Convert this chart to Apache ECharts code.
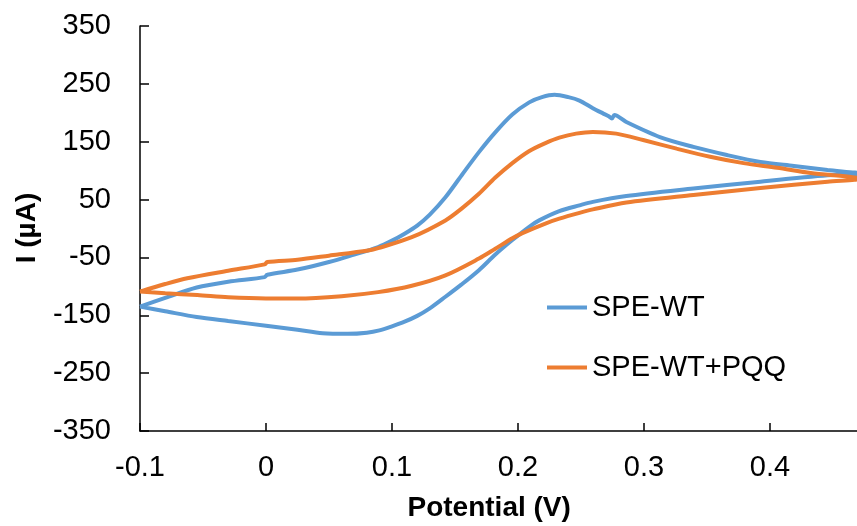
<!DOCTYPE html>
<html>
<head>
<meta charset="utf-8">
<script src="https://cdn.jsdelivr.net/npm/echarts@6/dist/echarts.min.js"></script>
<style>
  html, body { margin: 0; padding: 0; background: #fff; }
  #cv { width: 857px; height: 526px; }
</style>
</head>
<body>
<div id="cv"></div>
<script>
// potential (V) and current (uA), forward scan then reverse scan
const wtFwdE = [-0.1, -0.08, -0.055, -0.03, -0.001, 0.001, 0.025, 0.05, 0.07, 0.089, 0.1, 0.11, 0.12, 0.13, 0.1424, 0.1556, 0.169, 0.1823, 0.1955, 0.2089, 0.219, 0.229, 0.24, 0.2488, 0.2594, 0.2674, 0.272, 0.2745, 0.2765, 0.286, 0.3126, 0.3392, 0.3658, 0.3924, 0.419, 0.4457, 0.472];
const wtFwdI = [-135, -120, -102, -92, -84, -80, -71, -58, -45, -32, -21, -9, 5, 24, 54, 93, 132, 167, 197, 218, 227, 231, 227, 221, 208, 199, 194, 190, 196, 184, 158, 141, 127, 115, 108, 101, 95];
const wtRevE = [0.4457, 0.3924, 0.3392, 0.286, 0.2594, 0.2488, 0.2328, 0.2168, 0.2089, 0.1955, 0.182, 0.169, 0.155, 0.1424, 0.13, 0.12, 0.11, 0.1, 0.09, 0.08, 0.065, 0.045, 0.025, 0, -0.03, -0.055, -0.08, -0.1];
const wtRevI = [92, 81, 69, 56, 46, 40, 30, 14, 3, -20, -45, -72, -97, -118, -138, -151, -161, -169, -176, -180, -182, -181, -175, -168, -160, -153, -143, -135];

const pqqFwdE = [-0.1, -0.08, -0.0625, -0.03, -0.001, 0.001, 0.025, 0.05, 0.081, 0.089, 0.1157, 0.1424, 0.155, 0.169, 0.182, 0.1955, 0.209, 0.2222, 0.2328, 0.2461, 0.2594, 0.278, 0.2993, 0.3259, 0.3525, 0.379, 0.4057, 0.4323, 0.472];
const pqqFwdI = [-109, -96, -86, -73, -62, -58, -54, -47, -38, -34, -15, 14, 34, 60, 88, 113, 134, 148, 157, 164, 167, 164, 153, 138, 124, 113, 105, 96, 86];
const pqqRevE = [0.4457, 0.3924, 0.3392, 0.286, 0.2594, 0.2488, 0.2328, 0.2222, 0.2035, 0.1955, 0.182, 0.169, 0.1424, 0.1157, 0.089, 0.06, 0.025, 0, -0.03, -0.0545, -0.08, -0.1];
const pqqRevI = [81, 70, 58, 45, 33, 27, 17, 9, -8, -17, -35, -52, -81, -99, -110, -117, -121, -121, -119, -115, -112, -109];

const seriesNames = ['SPE-WT', 'SPE-WT+PQQ'];
const xTicks = { min: -0.1, max: 0.5, step: 0.1 };
const yTicks = { min: -350, max: 350, step: 100 };

function pairs(fe, fi, re, ri) {
    let out = fe.map((e, k) => [e, fi[k]]);
    return out.concat(re.map((e, k) => [e, ri[k]]));
}

let chart = echarts.init(document.getElementById('cv'));
const font = 'Liberation Sans, Arial, sans-serif';
const axisLineStyle = { color: '#000', width: 1.5 };

let option = {
    animation: false,
    backgroundColor: '#fff',
    color: ['#5B9BD5', '#ED7D31'],
    grid: { left: 140, right: -39, top: 26, bottom: 95, containLabel: false, outerBoundsMode: 'none' },
    legend: {
        orient: 'vertical',
        left: 542,
        top: 288,
        icon: 'rect',
        itemWidth: 40,
        itemHeight: 4,
        itemGap: 31,
        textStyle: { fontSize: 29, color: '#000', fontFamily: font },
        data: seriesNames
    },
    xAxis: {
        type: 'value',
        min: xTicks.min,
        max: xTicks.max,
        interval: xTicks.step,
        axisLine: { show: true, onZero: false, lineStyle: axisLineStyle },
        axisTick: { show: true, inside: true, length: 8, lineStyle: axisLineStyle },
        splitLine: { show: false },
        axisLabel: {
            margin: 22,
            fontSize: 29,
            color: '#000',
            fontFamily: font,
            formatter: v => String(Math.round(v * 10) / 10)
        }
    },
    yAxis: {
        type: 'value',
        min: yTicks.min,
        max: yTicks.max,
        interval: yTicks.step,
        axisLine: { show: true, onZero: false, lineStyle: axisLineStyle },
        axisTick: { show: true, inside: true, length: 9, lineStyle: axisLineStyle },
        splitLine: { show: false },
        axisLabel: { margin: 29, fontSize: 29, color: '#000', fontFamily: font }
    },
    graphic: [
        {
            type: 'text', left: 489.5 - 82, top: 494,
            style: { text: 'Potential (V)', font: 'bold 28px ' + font, fill: '#000' }
        },
        {
            type: 'text', x: 27, y: 228, rotation: Math.PI / 2,
            style: { text: 'I (µA)', font: 'bold 28px ' + font, fill: '#000', align: 'center', verticalAlign: 'middle' }
        }
    ],
    series: [
        {
            name: seriesNames[0],
            type: 'line',
            symbol: 'none',
            smooth: 0.3,
            lineStyle: { width: 4 },
            data: pairs(wtFwdE, wtFwdI, wtRevE, wtRevI)
        },
        {
            name: seriesNames[1],
            type: 'line',
            symbol: 'none',
            smooth: 0.3,
            lineStyle: { width: 4 },
            data: pairs(pqqFwdE, pqqFwdI, pqqRevE, pqqRevI)
        }
    ]
};

chart.setOption(option);
</script>
</body>
</html>
